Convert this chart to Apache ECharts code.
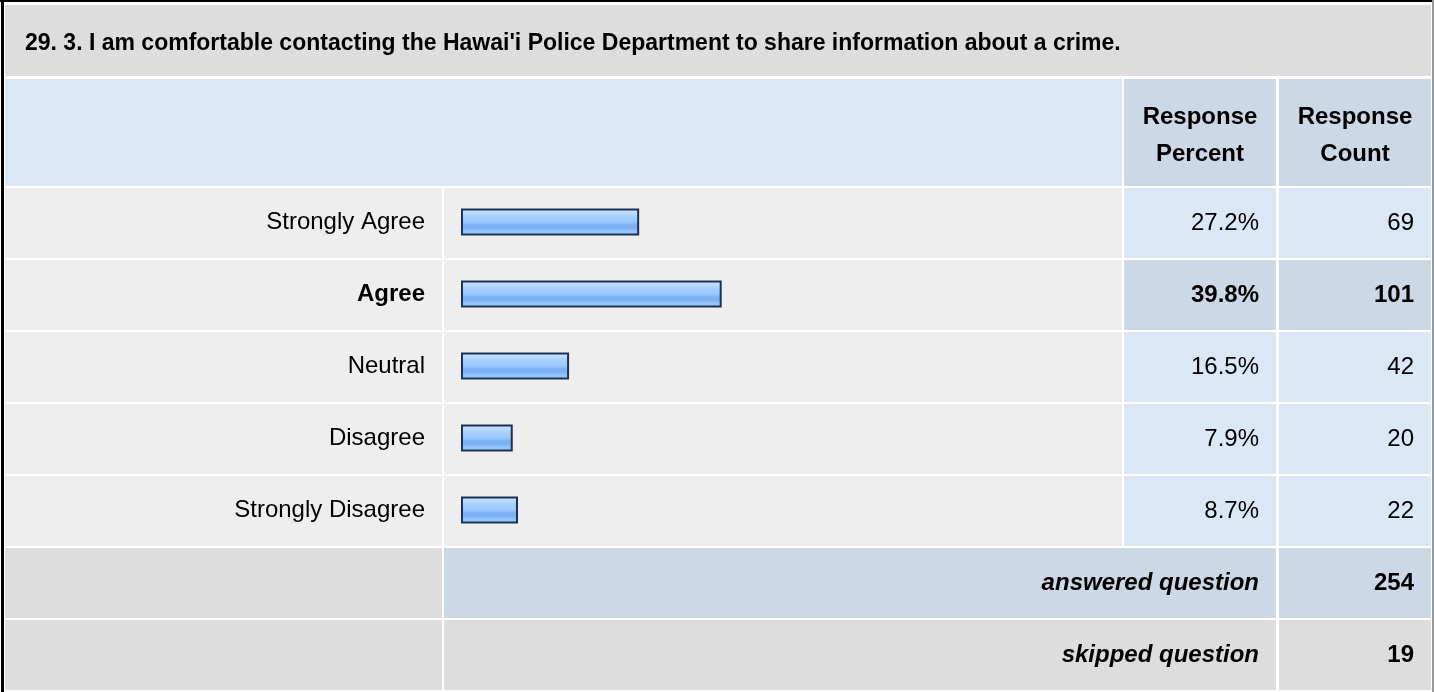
<!DOCTYPE html>
<html>
<head>
<meta charset="utf-8">
<script src="https://cdn.jsdelivr.net/npm/echarts@6/dist/echarts.min.js"></script>
<style>
html,body{margin:0;padding:0;background:#fff;}
#c{width:1434px;height:692px;}
</style>
</head>
<body>
<div id="c"></div>
<script>
const title = "29. 3. I am comfortable contacting the Hawai'i Police Department to share information about a crime.";
const categories = ["Strongly Agree", "Agree", "Neutral", "Disagree", "Strongly Disagree"];
const percents = [27.2, 39.8, 16.5, 7.9, 8.7];
const counts = [69, 101, 42, 20, 22];
const highlightIndex = 1;
const answered = 254;
const skipped = 19;
const headerPercent = "Response\nPercent";
const headerCount = "Response\nCount";

const FONT = "'Liberation Sans', Arial, Helvetica, sans-serif";
const FS = 24;

// Layout
const X0 = 5, XL1 = 442, XB0 = 444, XB1 = 1122, XP0 = 1124, XP1 = 1276, XC0 = 1279, XC1 = 1431;
const ROW0 = 188, PITCH = 72, RH = 70;

const g = [];
function rect(x0, y0, x1, y1, fill) {
  g.push({type: 'rect', silent: true, shape: {x: x0, y: y0, width: x1 - x0, height: y1 - y0}, style: {fill: fill}, z: 0});
}
function text(x, y, s, align, opts) {
  opts = opts || {};
  g.push({type: 'text', silent: true, x: x, y: y, z: 10,
    style: Object.assign({text: s, fill: '#000', font: (opts.style || '') + ' ' + (opts.weight || 'normal') + ' ' + FS + 'px ' + FONT,
      align: align, verticalAlign: 'middle'}, opts.extra || {})});
}

// outer border
rect(0, 0, 1434, 692, '#ffffff');
rect(0, 0, 1434, 2, '#000000');
rect(1, 0, 4, 692, '#000000');
rect(1432, 0, 1434, 692, '#999999');

// title row
rect(X0, 5, XC1, 76, '#dddddd');
g.push({type: 'text', silent: true, x: 25, y: 44, z: 10,
  style: {text: title, fill: '#000', font: 'bold 23px ' + FONT, align: 'left', verticalAlign: 'middle'}});

// header row
rect(X0, 79, XB1, 186, '#dce7f5');
rect(XP0, 79, XP1, 186, '#ccd8e6');
rect(XC0, 79, XC1, 186, '#ccd8e6');
text((XP0 + XP1) / 2, 136, headerPercent, 'center', {weight: 'bold', extra: {lineHeight: 37}});
text((XC0 + XC1) / 2, 136, headerCount, 'center', {weight: 'bold', extra: {lineHeight: 37}});

// data rows
categories.forEach(function (c, i) {
  const y0 = ROW0 + i * PITCH, y1 = y0 + RH, yc = (y0 + y1) / 2;
  const hl = i === highlightIndex;
  rect(X0, y0, XL1, y1, '#eeeeee');
  rect(XB0, y0, XB1, y1, '#eeeeee');
  rect(XP0, y0, XP1, y1, hl ? '#ccd8e6' : '#dce7f5');
  rect(XC0, y0, XC1, y1, hl ? '#ccd8e6' : '#dce7f5');
  text(XP1 - 17, yc, percents[i].toFixed(1) + '%', 'right', {weight: hl ? 'bold' : 'normal'});
  text(XC1 - 17, yc, String(counts[i]), 'right', {weight: hl ? 'bold' : 'normal'});
});

// footer rows
const F0 = ROW0 + categories.length * PITCH;
rect(X0, F0, XL1, F0 + RH, '#dddddd');
rect(XB0, F0, XP1, F0 + RH, '#ccd8e6');
rect(XC0, F0, XC1, F0 + RH, '#ccd8e6');
text(XP1 - 17, F0 + RH / 2, 'answered question', 'right', {weight: 'bold', style: 'italic'});
text(XC1 - 17, F0 + RH / 2, String(answered), 'right', {weight: 'bold'});
const F1 = F0 + PITCH;
rect(X0, F1, XL1, F1 + RH, '#dddddd');
rect(XB0, F1, XP1, F1 + RH, '#dddddd');
rect(XC0, F1, XC1, F1 + RH, '#dddddd');
text(XP1 - 17, F1 + RH / 2, 'skipped question', 'right', {weight: 'bold', style: 'italic'});
text(XC1 - 17, F1 + RH / 2, String(skipped), 'right', {weight: 'bold'});

const chart = echarts.init(document.getElementById('c'), null, {renderer: 'canvas'});
chart.setOption({
  animation: false,
  backgroundColor: 'transparent',
  graphic: {elements: g},
  grid: {left: 461, top: ROW0 - 2, width: 655, height: categories.length * PITCH, containLabel: false},
  xAxis: {type: 'value', min: 0, max: 100, show: false},
  yAxis: {
    type: 'category', data: categories, inverse: true,
    axisLine: {show: false}, axisTick: {show: false}, splitLine: {show: false},
    axisLabel: {
      margin: 36, fontSize: FS, fontFamily: FONT, color: '#000',
      formatter: function (v, i) { return i === highlightIndex ? '{b|' + v + '}' : v; },
      rich: {b: {fontWeight: 'bold', fontSize: FS, fontFamily: FONT, color: '#000'}}
    }
  },
  series: [{
    type: 'bar', data: percents, barWidth: 27, z: 5,
    itemStyle: {
      borderColor: '#1d3252', borderWidth: 2,
      color: new echarts.graphic.LinearGradient(0, 0, 0, 1, [
        {offset: 0, color: '#cfe6ff'},
        {offset: 0.15, color: '#bcdcff'},
        {offset: 0.3, color: '#a6d0ff'},
        {offset: 0.5, color: '#99c8ff'},
        {offset: 0.6, color: '#7eb2f2'},
        {offset: 0.72, color: '#78aef0'},
        {offset: 0.8, color: '#8ec0ff'},
        {offset: 1, color: '#9fcbff'}
      ])
    }
  }]
});
</script>
</body>
</html>
